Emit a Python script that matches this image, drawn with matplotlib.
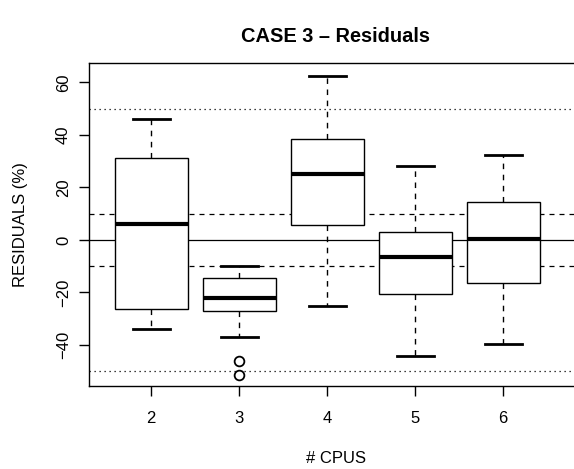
import numpy as np
import matplotlib.pyplot as plt

plt.rcParams['font.family'] = ['Liberation Sans', 'DejaVu Sans']

# boxplot stats
cpus = ['2', '3', '4', '5', '6']
whisk_lo = [-34, -37, -25, -44, -39.5]
q1 = [-26.3, -27, 5.7, -20.5, -16.4]
med = [6, -22, 25, -6.4, 0.4]
q3 = [31, -14.4, 38.6, 2.9, 14.5]
whisk_hi = [46, -10, 62.4, 28.2, 32.3]
outliers = [[], [-46, -51.3], [], [], []]

fig = plt.figure(figsize=(5.74, 4.69), dpi=100)
ax = fig.add_axes([89/574, 1 - 386/469, (582 - 89)/574, (386 - 63)/469])

stats = []
for i in range(len(cpus)):
    stats.append({'med': med[i], 'q1': q1[i], 'q3': q3[i],
                  'whislo': whisk_lo[i], 'whishi': whisk_hi[i],
                  'fliers': outliers[i], 'label': cpus[i]})

pos = np.arange(2, 7)

# reference lines
ax.axhline(0, color='black', lw=0.9, zorder=1)
for v in (10, -10):
    ax.axhline(v, color='black', lw=0.9, ls=(0, (4, 4)), zorder=1)
for v in (50, -50):
    ax.axhline(v, color='black', lw=0.9, ls=(0, (1, 3)), zorder=1)

ax.bxp(stats, positions=pos, widths=0.83, patch_artist=True,
       boxprops=dict(facecolor='white', edgecolor='black', linewidth=1.0),
       medianprops=dict(color='black', linewidth=3),
       whiskerprops=dict(color='black', linewidth=1.0, linestyle=(0, (4, 4))),
       capprops=dict(color='black', linewidth=2),
       capwidths=0.42,
       flierprops=dict(marker='o', markerfacecolor='white', markeredgecolor='black',
                       markersize=7, markeredgewidth=1.3),
       zorder=2)

ax.set_xlim(1.295, 6.897)
ax.set_ylim(-55.6, 67.35)
ax.set_xticks(pos)
ax.set_xticklabels(cpus)
ax.set_yticks([-40, -20, 0, 20, 40, 60])
ax.set_yticklabels(['\u221240', '\u221220', '0', '20', '40', '60'], rotation=90, va='center')
ax.tick_params(axis='both', length=7, width=1, labelsize=12, direction='out')
ax.tick_params(axis='x', pad=11)
ax.tick_params(axis='y', pad=6)
for s in ax.spines.values():
    s.set_linewidth(1)

ax.set_xlabel('# CPUS', fontsize=12, labelpad=18)
ax.set_ylabel('RESIDUALS (%)', fontsize=12, labelpad=20)
ax.set_title('CASE 3 \u2013 Residuals', fontsize=14.4, fontweight='bold', pad=15)

fig.savefig('out.png', dpi=100)
